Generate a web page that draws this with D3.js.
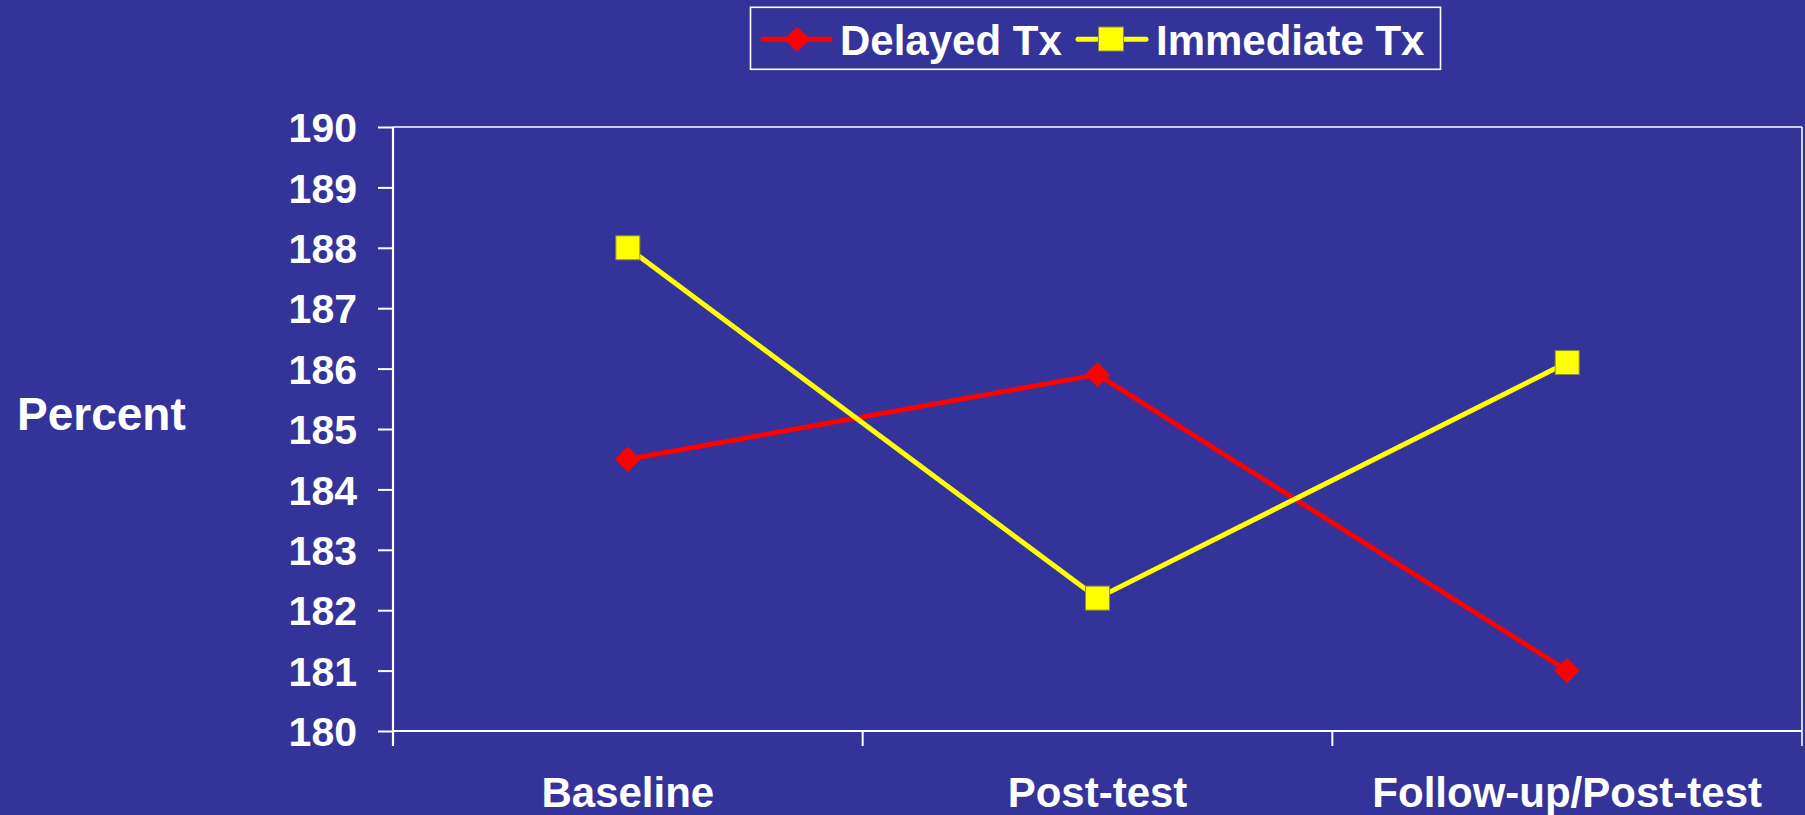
<!DOCTYPE html>
<html>
<head>
<meta charset="utf-8">
<script src="https://cdn.jsdelivr.net/npm/d3@7"></script>
<style>
  html, body { margin: 0; padding: 0; background: #333399; }
  svg { display: block; }
  text { font-family: "Liberation Sans", Arial, sans-serif; font-weight: bold; fill: #ffffff; }
</style>
</head>
<body>
<svg id="chart" width="1805" height="815"></svg>
<script>
const categories = ["Baseline", "Post-test", "Follow-up/Post-test"];
const delayedTx = [184.5, 185.9, 181.0];
const immediateTx = [188.0, 182.2, 186.1];
const yTicks = [180, 181, 182, 183, 184, 185, 186, 187, 188, 189, 190];
const seriesNames = ["Delayed Tx", "Immediate Tx"];

const W = 1805, H = 815;
const plot = { left: 393, right: 1802, top: 127, bottom: 731 };
const svg = d3.select("#chart");
svg.append("rect").attr("width", W).attr("height", H).attr("fill", "#333399");

const x = d3.scaleBand().domain(categories).range([plot.left, plot.right]).padding(0);
const y = d3.scaleLinear().domain([180, 190]).range([plot.bottom, plot.top]);

// frame top & right
svg.append("line").attr("x1", plot.left).attr("x2", plot.right).attr("y1", y(190)).attr("y2", y(190))
  .attr("stroke", "#ffffff").attr("stroke-width", 1.6);
svg.append("line").attr("x1", plot.right).attr("x2", plot.right).attr("y1", y(190)).attr("y2", plot.bottom + 15)
  .attr("stroke", "#ffffff").attr("stroke-width", 1.6);

// y axis
const yAxis = d3.axisLeft(y).tickValues(yTicks).tickFormat(d3.format("d")).tickSize(15).tickSizeOuter(0).tickPadding(21);
const gy = svg.append("g").attr("transform", `translate(${plot.left},0)`).call(yAxis);
gy.select(".domain").remove();
gy.selectAll(".tick line").attr("stroke", "#ffffff").attr("stroke-width", 2);
gy.selectAll(".tick text").style("font-size", "41px").attr("fill", "#ffffff").attr("dy", "0.36em");
svg.append("line").attr("x1", plot.left).attr("x2", plot.left).attr("y1", y(190)).attr("y2", plot.bottom + 15)
  .attr("stroke", "#ffffff").attr("stroke-width", 2.2);

// x axis
svg.append("line").attr("x1", plot.left).attr("x2", plot.right).attr("y1", plot.bottom).attr("y2", plot.bottom)
  .attr("stroke", "#ffffff").attr("stroke-width", 2.2);
const boundaries = categories.map(c => x(c)).concat([x(categories[categories.length - 1]) + x.bandwidth()]);
svg.selectAll(".xtick").data(boundaries.slice(1, -1)).enter().append("line")
  .attr("x1", d => d).attr("x2", d => d).attr("y1", plot.bottom).attr("y2", plot.bottom + 15)
  .attr("stroke", "#ffffff").attr("stroke-width", 2);
svg.selectAll(".xlabel").data(categories).enter().append("text")
  .attr("x", d => x(d) + x.bandwidth() / 2).attr("y", plot.bottom + 76)
  .attr("text-anchor", "middle").style("font-size", "42px").text(d => d);

// y label
svg.append("text").attr("x", 17).attr("y", 430).style("font-size", "46px").text("Percent");

// lines
const line = d3.line().x((d, i) => x(categories[i]) + x.bandwidth() / 2).y(d => y(d));
svg.append("path").datum(delayedTx).attr("d", line).attr("fill", "none")
  .attr("stroke", "#ff0000").attr("stroke-width", 5).attr("stroke-linejoin", "round");
svg.append("path").datum(immediateTx).attr("d", line).attr("fill", "none")
  .attr("stroke", "#ffff00").attr("stroke-width", 5).attr("stroke-linejoin", "round");

// markers
svg.selectAll(".dmark").data(delayedTx).enter().append("path")
  .attr("transform", (d, i) => `translate(${x(categories[i]) + x.bandwidth() / 2},${y(d)})`)
  .attr("d", "M0,-12.7L12.7,0L0,12.7L-12.7,0Z").attr("fill", "#ff0000");
svg.selectAll(".imark").data(immediateTx).enter().append("rect")
  .attr("x", (d, i) => x(categories[i]) + x.bandwidth() / 2 - 12).attr("y", d => y(d) - 12)
  .attr("width", 24).attr("height", 24).attr("fill", "#ffff00").attr("stroke", "#8a8a40").attr("stroke-width", 1);

// legend
const lg = svg.append("g");
lg.append("rect").attr("x", 750.5).attr("y", 7.3).attr("width", 690).attr("height", 62)
  .attr("fill", "none").attr("stroke", "#ffffff").attr("stroke-width", 1.6);
const legendItems = [
  { name: seriesNames[0], color: "#ff0000", lx1: 763, lx2: 830, mx: 797, tx: 840, marker: "diamond" },
  { name: seriesNames[1], color: "#ffff00", lx1: 1078, lx2: 1146, mx: 1111, tx: 1156, marker: "square" }
];
legendItems.forEach(it => {
  lg.append("line").attr("x1", it.lx1).attr("x2", it.lx2).attr("y1", 39.3).attr("y2", 39.3)
    .attr("stroke", it.color).attr("stroke-width", 5).attr("stroke-linecap", "round");
  if (it.marker === "diamond") {
    lg.append("path").attr("transform", `translate(${it.mx},39.3)`)
      .attr("d", "M0,-12.5L13,0L0,12.5L-13,0Z").attr("fill", it.color);
  } else {
    lg.append("rect").attr("x", it.mx - 12.5).attr("y", 39 - 12).attr("width", 25).attr("height", 24)
      .attr("fill", it.color).attr("stroke", "#8a8a40").attr("stroke-width", 1);
  }
  lg.append("text").attr("x", it.tx).attr("y", 55).style("font-size", "42px").text(it.name);
});
</script>
</body>
</html>
